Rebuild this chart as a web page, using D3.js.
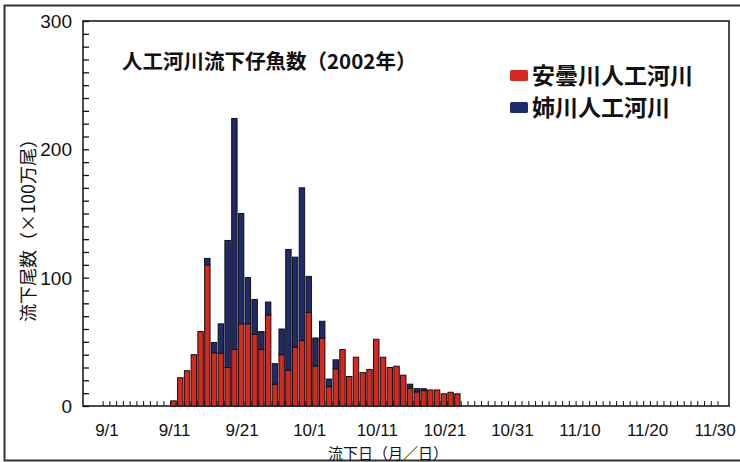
<!DOCTYPE html>
<html>
<head>
<meta charset="utf-8">
<script src="https://cdn.jsdelivr.net/npm/d3@7"></script>
<style>
    body { margin: 0; background: #fff; }
    svg text { font-family: "Liberation Sans", Arial, "Noto Sans CJK JP", sans-serif; }
    .jp { font-family: "Noto Sans CJK JP", sans-serif; }
</style>
</head>
<body>
<div id="chart"></div>
<script>
// 流下日 (9/11 - 10/23)
const dates = [
    '9/11', '9/12', '9/13', '9/14', '9/15', '9/16', '9/17', '9/18', '9/19', '9/20',
    '9/21', '9/22', '9/23', '9/24', '9/25', '9/26', '9/27', '9/28', '9/29', '9/30',
    '10/1', '10/2', '10/3', '10/4', '10/5', '10/6', '10/7', '10/8', '10/9', '10/10',
    '10/11', '10/12', '10/13', '10/14', '10/15', '10/16', '10/17', '10/18', '10/19', '10/20',
    '10/21', '10/22', '10/23'
]

// 安曇川人工河川 (x100万尾)
const azumi = [
    4, 22, 27.5, 40, 58, 110, 41.5, 41, 30, 44,
    64, 64, 56, 44, 71, 17, 40, 28, 46, 51,
    73, 31, 53, 15, 29, 44, 23, 38, 26, 28.5,
    52, 38, 30, 31, 24, 14, 11, 12, 12.5, 12.5,
    9.5, 10.7, 9.5
]

// 姉川人工河川 (x100万尾)
const ane = [
    0, 0, 0, 0, 0, 5, 8, 23, 99, 180,
    86, 36, 27, 14, 10, 16, 20, 94, 70, 119,
    28, 22, 13, 6, 7, 0, 0, 0, 0, 0,
    0, 0, 0, 0, 0, 3, 2.5, 1.5, 0, 0,
    0, 0, 0
]

const xTickLabels = ['9/1', '9/11', '9/21', '10/1', '10/11', '10/21', '10/31', '11/10', '11/20', '11/30']
const yTicks      = [0, 100, 200, 300]

const series = [
    { key: 'azumi', name: '安曇川人工河川', color: '#d6281e' },
    { key: 'ane',   name: '姉川人工河川',   color: '#1e2a6c' }
]

const WIDTH  = 740
const HEIGHT = 462
const PLOT   = { left: 83, right: 729, top: 21, bottom: 406 }

const parse  = d3.timeParse('%m/%d')
const start  = parse('9/1')
const dayOf  = s => d3.timeDay.count(start, parse(s))

const x = d3.scaleLinear()
    .domain([-3.4, 92.2])
    .range([PLOT.left, PLOT.right])

const y = d3.scaleLinear()
    .domain([0, 300])
    .range([PLOT.bottom, PLOT.top])

const dayWidth = x(1) - x(0)
const barWidth = dayWidth * 0.8

const svg = d3.select('#chart').append('svg')
    .attr('width', WIDTH)
    .attr('height', HEIGHT)

// outer frame
svg.append('rect')
    .attr('x', 4.5)
    .attr('y', 5.5)
    .attr('width', WIDTH + 10)
    .attr('height', 455)
    .attr('fill', '#fff')
    .attr('stroke', '#333')
    .attr('stroke-width', 2)

// plot frame
svg.append('rect')
    .attr('x', PLOT.left)
    .attr('y', PLOT.top)
    .attr('width', PLOT.right - PLOT.left)
    .attr('height', PLOT.bottom - PLOT.top)
    .attr('fill', '#fff')
    .attr('stroke', '#111')
    .attr('stroke-width', 1.5)

// daily tick marks on the x axis (inward)
svg.append('g')
    .attr('transform', `translate(0, ${PLOT.bottom})`)
    .call(d3.axisBottom(x)
        .tickValues(d3.range(-0.5, 91, 1))
        .tickSizeInner(-5)
        .tickSizeOuter(0)
        .tickFormat(''))
    .call(g => g.select('.domain').remove())
    .call(g => g.selectAll('line').attr('stroke', '#111'))

// y minor ticks every 10 (inward)
svg.append('g')
    .attr('transform', `translate(${PLOT.left}, 0)`)
    .call(d3.axisLeft(y)
        .tickValues(d3.range(0, 301, 10))
        .tickSizeInner(-6)
        .tickSizeOuter(0)
        .tickFormat(''))
    .call(g => g.select('.domain').remove())
    .call(g => g.selectAll('line').attr('stroke', '#111').attr('stroke-width', 1.3))

// stacked bars
const rows = dates.map((d, i) => ({ date: d, azumi: azumi[i], ane: ane[i] }))
const stacked = d3.stack().keys(series.map(s => s.key))(rows)

svg.append('g')
    .selectAll('g')
    .data(stacked)
    .join('g')
    .attr('fill', (d, i) => series[i].color)
    .selectAll('rect')
    .data(d => d.filter(v => v[1] > v[0]))
    .join('rect')
    .attr('x', d => x(dayOf(d.data.date)) - barWidth / 2)
    .attr('y', d => y(d[1]))
    .attr('width', barWidth)
    .attr('height', d => y(d[0]) - y(d[1]))
    .attr('stroke', '#111')
    .attr('stroke-width', 1)

// y tick labels
svg.append('g')
    .selectAll('text')
    .data(yTicks)
    .join('text')
    .attr('x', 72)
    .attr('y', d => y(d) + 7)
    .attr('text-anchor', 'end')
    .attr('font-size', 19)
    .attr('fill', '#111')
    .text(d => d)

// x tick labels
svg.append('g')
    .selectAll('text')
    .data(xTickLabels)
    .join('text')
    .attr('x', d => x(dayOf(d)) + 1)
    .attr('y', 436)
    .attr('text-anchor', 'middle')
    .attr('font-size', 17)
    .attr('fill', '#111')
    .text(d => d)

// axis titles
svg.append('text')
    .attr('class', 'jp')
    .attr('x', 388)
    .attr('y', 458.5)
    .attr('text-anchor', 'middle')
    .attr('font-size', 15)
    .attr('fill', '#111')
    .text('流下日（月／日）')

svg.append('text')
    .attr('class', 'jp')
    .attr('transform', 'translate(35, 226) rotate(-90)')
    .attr('text-anchor', 'middle')
    .attr('font-size', 18)
    .attr('fill', '#111')
    .text('流下尾数（×100万尾）')

// chart title
svg.append('text')
    .attr('class', 'jp')
    .attr('x', 122)
    .attr('y', 69)
    .attr('font-size', 20.5)
    .attr('font-weight', 'bold')
    .attr('fill', '#111')
    .text('人工河川流下仔魚数（2002年）')

// legend
const legend = svg.append('g')
    .selectAll('g')
    .data(series)
    .join('g')
    .attr('transform', (d, i) => `translate(510, ${76 + i * 32})`)

legend.append('rect')
    .attr('x', 0)
    .attr('y', -6)
    .attr('width', 18)
    .attr('height', 11)
    .attr('rx', 1.5)
    .attr('fill', d => d.color)

legend.append('text')
    .attr('class', 'jp')
    .attr('x', 22)
    .attr('y', 8)
    .attr('font-size', 23)
    .attr('font-weight', 'bold')
    .attr('fill', '#111')
    .text(d => d.name)
</script>
</body>
</html>
